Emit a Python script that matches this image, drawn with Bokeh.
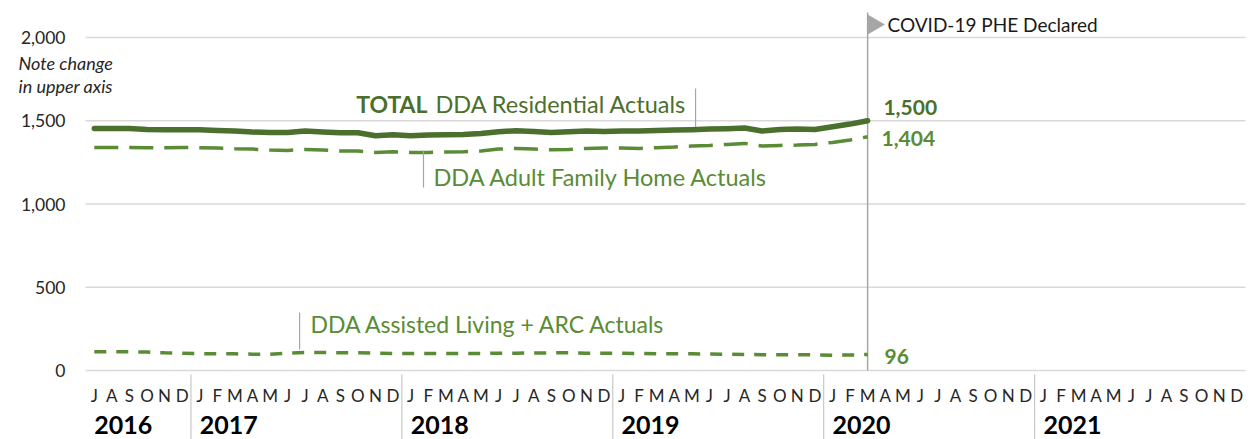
from bokeh.plotting import figure
from bokeh.models import Range1d
from bokeh.core.properties import value
from bokeh.embed import file_html
from bokeh.resources import INLINE
import math

# ---------------- data ----------------
month_letters = ["J", "A", "S", "O", "N", "D"] + ["J", "F", "M", "A", "M", "J", "J", "A", "S", "O", "N", "D"] * 5
years = ["2016", "2017", "2018", "2019", "2020", "2021"]
year_first_month = [0, 6, 18, 30, 42, 54]  # index of first month shown for each year

# Jul 2016 .. Mar 2020
total = [1454, 1454, 1454, 1448, 1446, 1446, 1446, 1442, 1438, 1432,
         1430, 1430, 1438, 1432, 1428, 1428, 1410, 1416, 1410, 1414,
         1416, 1418, 1424, 1434, 1440, 1436, 1430, 1434, 1438, 1436,
         1438, 1438, 1442, 1444, 1446, 1450, 1452, 1456, 1438, 1448,
         1450, 1448, 1464, 1480, 1500]
afh = [1340, 1340, 1340, 1338, 1338, 1340, 1338, 1336, 1332, 1330,
       1324, 1322, 1328, 1324, 1318, 1318, 1310, 1314, 1310, 1310,
       1312, 1314, 1318, 1330, 1334, 1330, 1326, 1328, 1334, 1336,
       1337, 1334, 1338, 1342, 1348, 1352, 1358, 1364, 1348, 1352,
       1354, 1358, 1370, 1384, 1404]
al = [112, 112, 112, 111, 106, 104, 101, 100, 100, 98,
      98, 104, 108, 108, 106, 106, 104, 102, 102, 102,
      102, 102, 102, 104, 104, 105, 106, 106, 104, 104,
      104, 102, 100, 100, 100, 99, 98, 96, 95, 94,
      94, 94, 92, 93, 96]
y_ticks = [0, 500, 1000, 1500, 2000]
y_tick_labels = [f"{v:,}" for v in y_ticks]

series_total_bold = "TOTAL"
series_total_name = "DDA Residential Actuals"
series_afh_name = "DDA Adult Family Home Actuals"
series_al_name = "DDA Assisted Living + ARC Actuals"
covid_text = "COVID-19 PHE Declared"
note_lines = ["Note change", "in upper axis"]

# ---------------- style / geometry ----------------
FONT = "Lato"
DARK = "#4B6F2C"
LIGHT = "#5A8B35"
GRID = "#D9D9D9"
LEADER = "#A6A6A6"
TXT = "#262626"

W, H = 1252, 439
n_months = len(month_letters)
STEP = 1160 / n_months          # px per month
LEFT_PX, RIGHT_PX = 85, 7       # space left/right of the month grid
K = 333 / 2000                  # px per unit
ZERO_PX = 370                   # pixel row of the zero line

xs = list(range(len(total)))
last = len(total) - 1

p = figure(width=W, height=H, output_backend="svg", toolbar_location=None,
           x_range=Range1d(-0.5 - LEFT_PX / STEP, n_months - 0.5 + RIGHT_PX / STEP),
           y_range=Range1d(-(H - ZERO_PX) / K, ZERO_PX / K),
           x_axis_location=None, y_axis_location=None,
           min_border_left=0, min_border_right=0, min_border_top=0, min_border_bottom=0)
p.outline_line_color = None
p.grid.visible = False
p.background_fill_color = "white"
p.border_fill_color = "white"

# horizontal grid and value labels
p.segment(x0=[-0.5] * len(y_ticks), y0=y_ticks, x1=[n_months - 0.5] * len(y_ticks), y1=y_ticks,
          line_color=GRID, line_width=1.5)
p.text(x=[-1.64] * len(y_ticks), y=y_ticks, text=y_tick_labels, text_align="right",
       text_baseline="middle", text_font=value(FONT), text_font_size="17.5px", text_color=TXT)

# month letters and years
p.text(x=list(range(n_months)), y=[-150] * n_months, text=month_letters,
       text_align="center", text_baseline="middle", text_font=value(FONT),
       text_font_size="17px", text_color=TXT)
p.text(x=year_first_month, y=[-330] * len(years), text=years,
       text_align="left", text_baseline="middle", text_font=value(FONT),
       text_font_size="25px", text_font_style="bold", text_color="black")
seps = [m - 0.5 for m in year_first_month[1:]]
p.segment(x0=seps, y0=[-24] * len(seps), x1=seps, y1=[-420] * len(seps),
          line_color="#C8C8C8", line_width=1.2)

# COVID marker
p.segment(x0=[last], y0=[0], x1=[last], y1=[2150], line_color=LEADER, line_width=1.5)
p.scatter(x=[last + 0.33], y=[2078], marker="triangle", size=20, angle=-math.pi / 2,
          fill_color=LEADER, line_color=None)
p.text(x=[last + 1.13], y=[2078], text=[covid_text], text_align="left", text_baseline="middle",
       text_font=value(FONT), text_font_size="19px", text_color="#1a1a1a")

# series
p.line(xs, al, line_color=LIGHT, line_width=3.5, line_dash="12 10")
p.line(xs, afh, line_color=LIGHT, line_width=3.5, line_dash="24 11")
p.line(xs, total, line_color=DARK, line_width=5.5, line_join="round", line_cap="round")

# leader lines
p.segment(x0=[34.21, 18.73, 11.68], y0=[1462, 1321, 126], x1=[34.21, 18.73, 11.68], y1=[1694, 1099, 348],
          line_color=LEADER, line_width=1.2)

# series labels
p.text(x=[18.96], y=[1598], text=[series_total_bold], text_align="right", text_baseline="middle",
       text_font=value(FONT), text_font_size="23px", text_font_style="bold", text_color=DARK)
p.text(x=[19.41], y=[1598], text=[series_total_name], text_align="left", text_baseline="middle",
       text_font=value(FONT), text_font_size="23.5px", text_color=DARK)
p.text(x=[19.3], y=[1162], text=[series_afh_name], text_align="left", text_baseline="middle",
       text_font=value(FONT), text_font_size="23.5px", text_color=LIGHT)
p.text(x=[12.3], y=[279], text=[series_al_name], text_align="left", text_baseline="middle",
       text_font=value(FONT), text_font_size="23px", text_color=LIGHT)

# end value labels
p.text(x=[44.9], y=[1577], text=[f"{total[-1]:,}"], text_align="left", text_baseline="middle",
       text_font=value(FONT), text_font_size="21px", text_font_style="bold", text_color=DARK)
p.text(x=[44.79], y=[1396], text=[f"{afh[-1]:,}"], text_align="left", text_baseline="middle",
       text_font=value(FONT), text_font_size="21px", text_font_style="bold", text_color=LIGHT)
p.text(x=[44.96], y=[87], text=[f"{al[-1]:,}"], text_align="left", text_baseline="middle",
       text_font=value(FONT), text_font_size="21px", text_font_style="bold", text_color=LIGHT)

# note next to the axis
p.text(x=[-4.31] * 2, y=[1844, 1706], text=note_lines, text_align="left", text_baseline="middle",
       text_font=value(FONT), text_font_size="18px", text_font_style="italic", text_color=TXT)

open("out.html", "w").write(file_html(p, INLINE))
